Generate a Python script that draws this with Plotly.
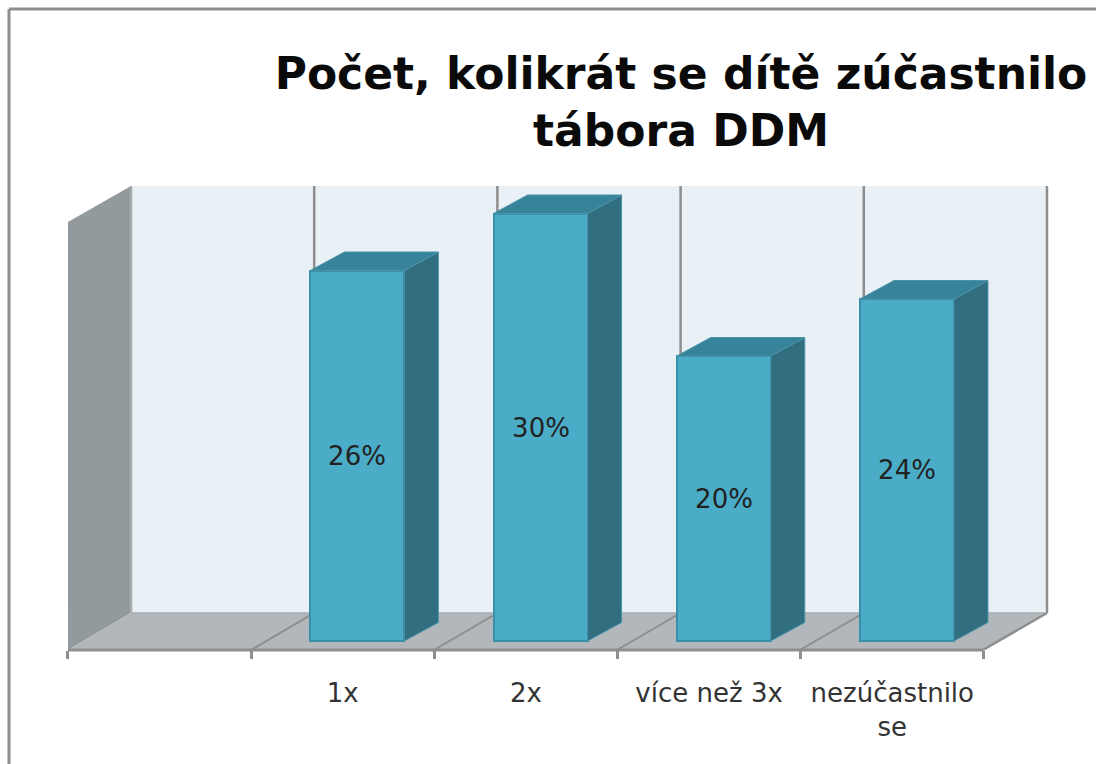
import plotly.graph_objects as go

# ---- data ----
categories = ["", "1x", "2x", "více než 3x", "nezúčastnilo<br>se"]
values = [None, 26, 30, 20, 24]
labels = ["", "26%", "30%", "20%", "24%"]
title_lines = ["Počet, kolikrát se dítě zúčastnilo", "tábora DDM"]

W, H = 1096, 764
PX_CAT, PX_PCT = 183.2, 14.25
X0_PX, Y0_PX = 159.5, 641.0           # pixel of category 0 centre, and of value 0
BAR_SHIFT, BAR_W = 0.08, 0.513
DEPTH_X, DEPTH_Y = 34 / PX_CAT, 18.5 / PX_PCT

x_range = [-X0_PX / PX_CAT, (W - X0_PX) / PX_CAT]
y_range = [-(H - Y0_PX) / PX_PCT, Y0_PX / PX_PCT]

idx = list(range(len(categories)))
bar_x = [i + BAR_SHIFT for i in idx]

FRONT_C, EDGE_C, SIDE_C, TOP_C = "#4BACC8", "#3A8FA8", "#316E80", "#378399"
WALL_C, LEFT_C, FLOOR_C, LINE_C = "#E9F0F6", "#939A9D", "#B2B7BB", "#8E8E8E"


def px(x):
    return x / W


def py(y):
    return 1 - y / H


def poly(points, fill):
    path = "M " + " L ".join(f"{px(a):.5f},{py(b):.5f}" for a, b in points) + " Z"
    return dict(type="path", path=path, xref="paper", yref="paper", fillcolor=fill,
                line=dict(width=0), layer="below")


def seg(a, b, c, d, width=2.5, color=LINE_C):
    return dict(type="line", xref="paper", yref="paper", x0=px(a), y0=py(b), x1=px(c), y1=py(d),
                line=dict(color=color, width=width), layer="below")


shapes = [
    poly([(131, 186), (1047, 186), (1047, 613), (131, 613)], WALL_C),
    poly([(68, 222), (131, 186), (131, 613), (68, 650)], LEFT_C),
    poly([(68, 650), (131, 613), (1047, 613), (983, 650)], FLOOR_C),
    seg(9, 9, 1096, 9, 3), seg(9, 9, 9, 764, 3),
    seg(131, 186, 131, 613, 2.5, "#A6ABAE"),
    seg(131, 613, 1047, 613, 1.5, "#A9AEB1"),
    seg(68, 650, 983, 650, 3),
    seg(983, 650, 1047, 613, 2.5),
]
for k in range(5):
    back = 131 + 183.2 * k + 183.2
    front = 68 + 183 * k + 183
    shapes.append(seg(back, 186, back, 613, 2.5))
    if k < 4:
        shapes.append(seg(front, 650, back, 613, 2))

fig = go.Figure()

fig.add_trace(go.Bar(
    x=bar_x, y=values, width=BAR_W, text=labels, textposition="inside",
    insidetextanchor="middle", textangle=0, constraintext="none",
    textfont=dict(family="DejaVu Sans", size=26, color="#222222"),
    marker=dict(color=FRONT_C, line=dict(color=EDGE_C, width=2)),
    hoverinfo="skip", showlegend=False,
))

side_x, side_y, top_x, top_y = [], [], [], []
for x, v in zip(bar_x, values):
    if v is None:
        continue
    l, r = x - BAR_W / 2, x + BAR_W / 2
    side_x += [r, r + DEPTH_X, r + DEPTH_X, r, r, None]
    side_y += [0, DEPTH_Y, v + DEPTH_Y, v, 0, None]
    top_x += [l, l + DEPTH_X, r + DEPTH_X, r, l, None]
    top_y += [v, v + DEPTH_Y, v + DEPTH_Y, v, v, None]

fig.add_trace(go.Scatter(x=side_x, y=side_y, mode="lines", fill="toself", fillcolor=SIDE_C,
                         line=dict(color="#4A93A8", width=1), hoverinfo="skip", showlegend=False))
fig.add_trace(go.Scatter(x=top_x, y=top_y, mode="lines", fill="toself", fillcolor=TOP_C,
                         line=dict(color="#4A93A8", width=1), hoverinfo="skip", showlegend=False))

fig.update_layout(
    width=W, height=H, margin=dict(l=0, r=0, t=0, b=0), autosize=False,
    paper_bgcolor="white", plot_bgcolor="rgba(0,0,0,0)", shapes=shapes, bargap=0,
    title=dict(text="<br>".join(title_lines), x=681 / W, xanchor="center", y=1 - 89 / H, yanchor="top",
               font=dict(family="DejaVu Sans", size=44, color="#0A0A0A", weight="bold")),
    xaxis=dict(range=x_range, tickmode="array", tickvals=idx, ticktext=categories,
               anchor="free", position=1 - 650 / H, showgrid=False, zeroline=False, showline=False,
               ticks="", ticklabelstandoff=25, automargin=False,
               tickfont=dict(family="DejaVu Sans", size=26, color="#333333"),
               minor=dict(tickmode="array", tickvals=[i - 0.5 for i in range(6)], ticks="outside",
                          ticklen=8, tickwidth=3, tickcolor=LINE_C, showgrid=False)),
    yaxis=dict(range=y_range, visible=False, showgrid=False, zeroline=False),
)

fig.write_html("out.html", post_script="document.body.style.margin='0';",
               config=dict(displayModeBar=False))
